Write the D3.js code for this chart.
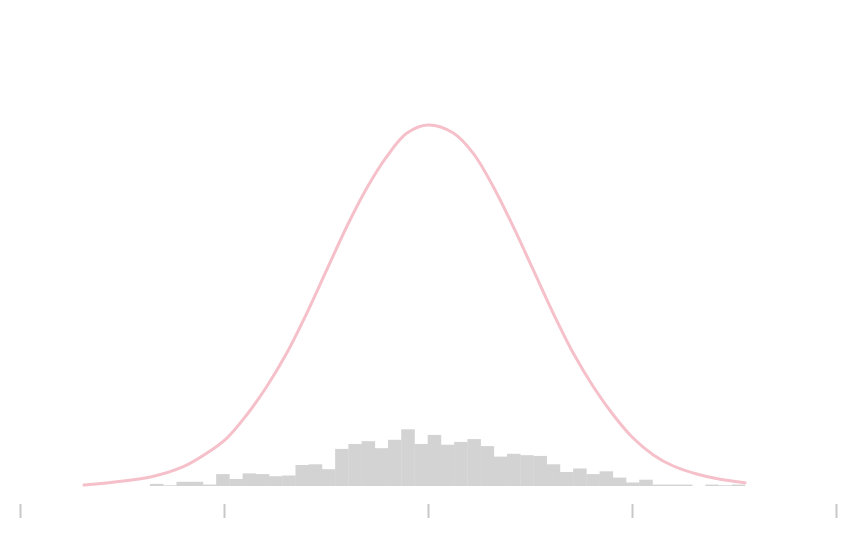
<!DOCTYPE html>
<html>
<head>
<meta charset="utf-8">
<script src="https://cdn.jsdelivr.net/npm/d3@7"></script>
<style>
  body { margin: 0; background: #fff; }
</style>
</head>
<body>
<svg id="chart"></svg>
<script>
// histogram counts, 45 equal bins between binMin and binMax
const binMin = -2.725;
const binMax = 3.108;
const counts = [3, 1, 6, 6, 2, 17, 10, 18, 17, 14, 15, 30, 31, 24, 53, 60, 64, 54, 66, 81,
                60, 73, 59, 63, 67, 57, 42, 46, 44, 43, 31, 20, 25, 17, 21, 12, 5, 9, 2, 2,
                2, 0, 2, 1, 2];

// density curve
const curveX = [-3.373, -2.709, -2.399, -2.170, -1.974, -1.778, -1.582, -1.386, -1.189, -0.993,
                -0.797, -0.601, -0.405, -0.209, 0, 0.248, 0.444, 0.640, 0.836, 1.032,
                1.228, 1.425, 1.621, 1.817, 2.013, 2.209, 2.405, 2.634, 2.863, 3.108];
const curveY = [0.0011, 0.0103, 0.0213, 0.0361, 0.0527, 0.0785, 0.1097, 0.1466, 0.1908, 0.2387,
                0.2865, 0.3290, 0.3639, 0.3897, 0.3989, 0.3901, 0.3676, 0.3307, 0.2865, 0.2387,
                0.1908, 0.1466, 0.1097, 0.0785, 0.0527, 0.0343, 0.0221, 0.0133, 0.0074, 0.0036];

const xTicks = [-4, -2, 0, 2, 4];

const W = 866, H = 538;
const svg = d3.select('#chart').attr('width', W).attr('height', H);

const x = d3.scaleLinear().domain([-4, 4]).range([20, 836]);
const yDens = d3.scaleLinear().domain([0, 0.4]).range([486, 124]);
const yCount = d3.scaleLinear().domain([0, 520]).range([486, 122]);

const bw = (binMax - binMin) / counts.length;
const bins = counts.map((c, i) => ({ x0: binMin + i * bw, x1: binMin + (i + 1) * bw, n: c }));

svg.append('g').selectAll('rect').data(bins).join('rect')
  .attr('x', d => x(d.x0))
  .attr('width', d => x(d.x1) - x(d.x0) + 0.3)
  .attr('y', d => yCount(d.n))
  .attr('height', d => yCount(0) - yCount(d.n))
  .attr('fill', '#d3d3d3');

const pts = curveX.map((v, i) => [v, curveY[i]]);
svg.append('path').datum(pts)
  .attr('fill', 'none')
  .attr('stroke', '#f5c0c9')
  .attr('stroke-width', 3)
  .attr('stroke-linecap', 'round')
  .attr('d', d3.line().x(d => x(d[0])).y(d => yDens(d[1])).curve(d3.curveCatmullRom.alpha(0.5)));

const axis = svg.append('g').attr('transform', 'translate(0,504)')
  .call(d3.axisBottom(x).tickValues(xTicks).tickSize(14).tickFormat(''));
axis.select('.domain').remove();
axis.selectAll('.tick line').attr('stroke', '#c8c8c8').attr('stroke-width', 2);
</script>
</body>
</html>
